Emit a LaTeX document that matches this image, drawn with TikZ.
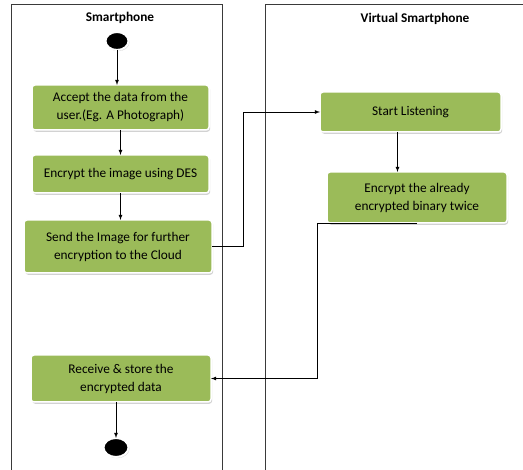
\documentclass[tikz,border=0pt]{standalone}
\usepackage{fontspec}
\setmainfont{Carlito}
\usepackage{xcolor}
\usepackage{tikz}
\usetikzlibrary{positioning, shapes.geometric, arrows, arrows.meta, shadows}

\definecolor{stepgreen}{HTML}{9BBB59}
\definecolor{laneline}{HTML}{3A3A3A}

\begin{document}
\begin{tikzpicture}[x=1pt, y=-1pt, every node/.style={font=\fontsize{13.3}{18}\selectfont}]
            % styles
            \tikzstyle{stepbox} = [rectangle, rounded corners=3pt, outer sep=0pt, minimum width=177pt, minimum height=40pt, align=center, fill=stepgreen, draw=white, line width=1.5pt, drop shadow={shadow xshift=1.2pt, shadow yshift=-1.8pt, fill=black!35}]
            \tikzstyle{dot} = [ellipse, inner sep=0pt, outer sep=0pt, fill=black, draw=white, line width=2pt, drop shadow={shadow xshift=1pt, shadow yshift=-1.2pt, fill=black!30}]
            \tikzstyle{arrow} = [line width=0.8pt,->,>=latex,draw=black]
            \tikzstyle{lane} = [line width=1pt, draw=laneline]
            \tikzstyle{title} = [font=\fontsize{13.3}{16}\selectfont\bfseries]

            \useasboundingbox (0,0) rectangle (523,470);

            % swimlanes
            \draw [lane] (11,470) -- (11,5) -- (222,5) -- (222,470);
            \draw [lane] (265,470) -- (265,5) -- (523,5);
            \node (phone) [title] at (120,18) {Smartphone};
            \node (virtual) [title] at (415,19) {Virtual Smartphone};

            % smartphone side
            \node (start) [dot, minimum width=23pt, minimum height=18pt] at (117,41) {};
            \node (accept) [stepbox, minimum height=45pt, below=35pt of start, xshift=3.5pt] {Accept the data from the\\user.(Eg. A Photograph)};
            \node (des) [stepbox, minimum height=38pt, below=25pt of accept] {Encrypt the image using DES};
            \node (send) [stepbox, minimum width=188pt, minimum height=53pt, below=27pt of des, xshift=-2.5pt] {Send the Image for further\\encryption to the Cloud};
            \node (receive) [stepbox, minimum width=180pt, minimum height=47pt, below=82pt of send, xshift=3pt] {Receive \& store the\\encrypted data};
            \node (finish) [dot, minimum width=25pt, minimum height=19pt, below=36pt of receive, xshift=-5pt] {};

            % virtual smartphone side
            \node (listen) [stepbox, minimum width=181pt, minimum height=40pt, right=111pt of accept, yshift=-4.5pt] {Start Listening};
            \node (twice) [stepbox, minimum width=180pt, minimum height=51pt, below=40pt of listen, xshift=6.5pt] {Encrypt the already\\encrypted binary twice};

            % flow
            \draw [arrow] (start) -- (start |- accept.north);
            \draw [arrow] (accept) -- (des);
            \draw [arrow] (des.south -| accept) -- (des.south |- send.north);
            \draw [arrow] (send.east) -- ++(31,0) |- (listen.west);
            \draw [arrow] ([xshift=-13pt]listen.south) -- ([xshift=-13pt]listen.south |- twice.north);
            \draw [arrow] (twice.south) -- ++(-100,0) |- (receive.east);
            \draw [arrow] (finish |- receive.south) -- (finish.north);
        \end{tikzpicture}
\end{document}
